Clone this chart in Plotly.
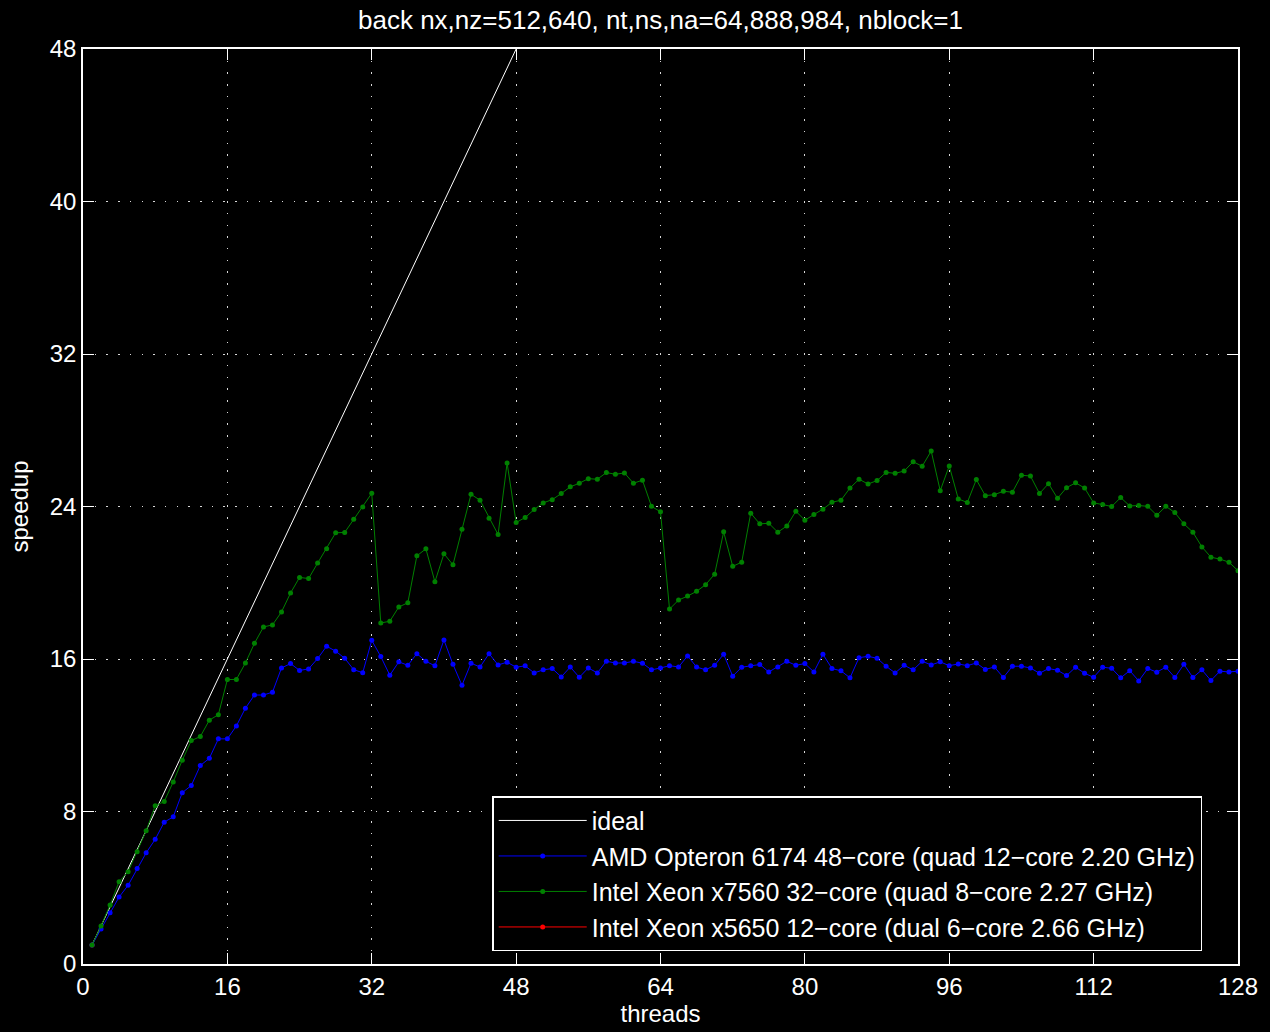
import plotly.graph_objects as go

threads = list(range(1, 129))

ideal_speedup = [float(t) for t in threads]

amd_speedup = [
    1.00, 1.83, 2.69, 3.51, 4.13, 5.01, 5.83, 6.54, 7.44, 7.72,
    8.99, 9.36, 10.41, 10.79, 11.81, 11.81, 12.49, 13.42, 14.11, 14.11,
    14.26, 15.53, 15.76, 15.40, 15.48, 16.02, 16.67, 16.41, 16.04, 15.44,
    15.28, 16.98, 16.13, 15.15, 15.85, 15.67, 16.28, 15.88, 15.64, 17.00,
    15.72, 14.62, 15.78, 15.58, 16.28, 15.69, 15.83, 15.57, 15.64, 15.27,
    15.43, 15.50, 15.06, 15.58, 15.04, 15.53, 15.27, 15.88, 15.79, 15.79,
    15.88, 15.78, 15.43, 15.53, 15.65, 15.58, 16.16, 15.58, 15.43, 15.67,
    16.25, 15.10, 15.57, 15.64, 15.71, 15.32, 15.58, 15.88, 15.67, 15.76,
    15.32, 16.25, 15.50, 15.38, 15.01, 16.07, 16.14, 16.04, 15.62, 15.27,
    15.67, 15.43, 15.88, 15.69, 15.85, 15.65, 15.74, 15.65, 15.79, 15.45,
    15.58, 15.03, 15.62, 15.62, 15.53, 15.25, 15.50, 15.41, 15.13, 15.57,
    15.25, 15.04, 15.57, 15.51, 15.01, 15.39, 14.85, 15.50, 15.31, 15.57,
    15.03, 15.72, 15.03, 15.43, 14.87, 15.36, 15.32, 15.36,
]

x7560_speedup = [
    1.00, 2.00, 3.10, 4.32, 4.84, 5.89, 6.99, 8.30, 8.52, 9.55,
    10.69, 11.72, 11.93, 12.79, 13.08, 14.92, 14.93, 15.79, 16.82, 17.68,
    17.79, 18.47, 19.46, 20.28, 20.22, 21.03, 21.79, 22.62, 22.64, 23.33,
    23.98, 24.69, 17.89, 17.98, 18.73, 18.95, 21.41, 21.78, 20.05, 21.52,
    20.94, 22.81, 24.64, 24.33, 23.39, 22.53, 26.28, 23.16, 23.42, 23.84,
    24.19, 24.36, 24.68, 25.03, 25.22, 25.46, 25.43, 25.78, 25.69, 25.76,
    25.22, 25.38, 24.01, 23.72, 18.62, 19.09, 19.30, 19.55, 19.90, 20.45,
    22.67, 20.86, 21.08, 23.65, 23.09, 23.12, 22.65, 22.98, 23.75, 23.28,
    23.58, 23.86, 24.22, 24.33, 24.97, 25.43, 25.18, 25.36, 25.79, 25.74,
    25.86, 26.35, 26.11, 26.91, 24.83, 26.13, 24.40, 24.21, 25.41, 24.57,
    24.62, 24.80, 24.75, 25.64, 25.60, 24.68, 25.20, 24.43, 24.99, 25.24,
    24.97, 24.19, 24.10, 24.00, 24.47, 24.03, 24.05, 24.01, 23.54, 24.01,
    23.68, 23.09, 22.65, 21.88, 21.34, 21.24, 21.08, 20.63,
]

x5650_threads = [1]
x5650_speedup = [1.00]

x_ticks = [0, 16, 32, 48, 64, 80, 96, 112, 128]
y_ticks = [0, 8, 16, 24, 32, 40, 48]

names = [
    "ideal",
    "AMD Opteron 6174 48\u2212core (quad 12\u2212core 2.20 GHz)",
    "Intel Xeon x7560 32\u2212core (quad 8\u2212core 2.27 GHz)",
    "Intel Xeon x5650 12\u2212core (dual 6\u2212core 2.66 GHz)",
]

FONT = "Liberation Sans, Arial, Helvetica, sans-serif"

fig = go.Figure()
fig.add_trace(go.Scatter(
    x=x5650_threads, y=x5650_speedup, name=names[3], mode="lines+markers",
    line=dict(color="#ff0000", width=1), marker=dict(color="#ff0000", size=5),
    legendrank=4,
))
fig.add_trace(go.Scatter(
    x=threads, y=ideal_speedup, name=names[0], mode="lines",
    line=dict(color="#ffffff", width=1), legendrank=1,
))
fig.add_trace(go.Scatter(
    x=threads, y=amd_speedup, name=names[1], mode="lines+markers",
    line=dict(color="#0000ff", width=1), marker=dict(color="#0000ff", size=5),
    legendrank=2,
))
fig.add_trace(go.Scatter(
    x=threads, y=x7560_speedup, name=names[2], mode="lines+markers",
    line=dict(color="#008000", width=1), marker=dict(color="#008000", size=5),
    legendrank=3,
))

axis_common = dict(
    showline=True, linecolor="#ffffff", linewidth=1.5, mirror="ticks",
    ticks="inside", ticklen=11, tickcolor="#ffffff", tickwidth=1,
    showgrid=True, gridcolor="#d8d8d8", griddash="1.5px,10.2px", gridwidth=1,
    zeroline=False, tickfont=dict(color="#ffffff", size=24, family=FONT),
    tickmode="array",
)

fig.update_layout(
    width=1270, height=1032,
    paper_bgcolor="#000000", plot_bgcolor="#000000",
    margin=dict(l=83, r=24, t=49, b=66),
    font=dict(family=FONT, color="#ffffff", size=24),
    title=dict(
        text="back nx,nz=512,640, nt,ns,na=64,888,984, nblock=1",
        xref="paper", x=0.5, xanchor="center", y=0.9805, yanchor="middle",
        font=dict(size=26, color="#ffffff", family=FONT),
    ),
    xaxis=dict(
        range=[0, 128], tickvals=x_ticks, ticktext=[str(v) for v in x_ticks],
        title=dict(text="threads", standoff=4, font=dict(size=24, color="#ffffff")),
        **axis_common,
    ),
    yaxis=dict(
        range=[0, 48], tickvals=y_ticks, ticktext=[str(v) for v in y_ticks],
        title=dict(text="speedup", standoff=14, font=dict(size=24, color="#ffffff")),
        **axis_common,
    ),
    legend=dict(
        x=0.3543, y=0.014, xanchor="left", yanchor="bottom",
        bgcolor="#000000", bordercolor="#ffffff", borderwidth=1.5,
        font=dict(size=25, color="#ffffff", family=FONT),
        tracegroupgap=0, itemwidth=88,
    ),
    showlegend=True,
)

fig.write_html("out.html")
